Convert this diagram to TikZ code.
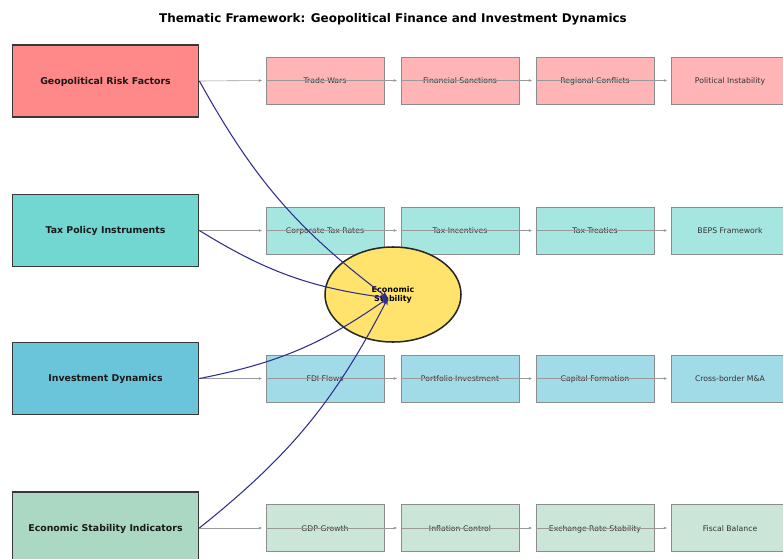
\documentclass[tikz,border=0pt]{standalone}
\usepackage{fontspec}
\setmainfont{DejaVu Sans}
\usetikzlibrary{arrows.meta,shapes.geometric}

\definecolor{riskred}{HTML}{FF6B6B}
\definecolor{taxteal}{HTML}{4ECDC4}
\definecolor{investblue}{HTML}{45B7D1}
\definecolor{stabgreen}{HTML}{96CEB4}
\definecolor{hubyellow}{HTML}{FFE36D}
\definecolor{linknavy}{HTML}{2E2E8F}

\tikzset{
  mainbox/.style={draw=black!78, line width=1.5pt, minimum width=5.58cm, minimum height=2.16cm,
    inner sep=0pt, text height=0.75em, text depth=0.2em, text=black!90,
    font=\bfseries\fontsize{8}{9}\selectfont},
  subbox/.style={draw=black!45, line width=0.6pt, minimum width=3.54cm, minimum height=1.41cm,
    inner sep=0pt, text height=0.75em, text depth=0.2em, text=black!80,
    font=\fontsize{6.6}{7}\selectfont},
  flow/.style={draw=black!40, line width=0.5pt, shorten >=0.1cm, -{Latex[length=3pt,width=2.4pt]}},
  link/.style={draw=linknavy, line width=0.9pt, bend right=12, -{Stealth[length=6pt,width=5pt]}}
}

\begin{document}
\begin{tikzpicture}[x=0.03cm,y=-0.03cm]
  \useasboundingbox (0,0) rectangle (783,558);
  \clip (0,0) rectangle (783,558);

  \node[font=\bfseries\fontsize{10.2}{11}\selectfont] (title) at (393,19)
    {Thematic Framework: Geopolitical Finance and Investment Dynamics};

  % main factors
  \node[mainbox, fill=riskred!80] (geo) at (105.5,81) {Geopolitical Risk Factors};
  \node[mainbox, fill=taxteal!80] (tax) at (105.5,230.5) {Tax Policy Instruments};
  \node[mainbox, fill=investblue!80] (inv) at (105.5,378.5) {Investment Dynamics};
  \node[mainbox, fill=stabgreen!80] (ind) at (105.5,528) {Economic Stability Indicators};

  % sub factors
  \foreach \lbl [count=\i] in {Trade Wars, Financial Sanctions, Regional Conflicts, Political Instability}
    \node[subbox, fill=riskred!50] (g\i) at (190+135*\i,80.5) {\lbl};
  \foreach \lbl [count=\i] in {Corporate Tax Rates, Tax Incentives, Tax Treaties, BEPS Framework}
    \node[subbox, fill=taxteal!50] (t\i) at (190+135*\i,230.5) {\lbl};
  \foreach \lbl [count=\i] in {FDI Flows, Portfolio Investment, Capital Formation, Cross-border M\&A}
    \node[subbox, fill=investblue!50] (v\i) at (190+135*\i,378.5) {\lbl};
  \foreach \lbl [count=\i] in {GDP Growth, Inflation Control, Exchange Rate Stability, Fiscal Balance}
    \node[subbox, fill=stabgreen!50] (s\i) at (190+135*\i,528) {\lbl};

  \draw[flow] (geo.east) -- (g1.west);
  \draw[flow] (tax.east) -- (t1.west);
  \draw[flow] (inv.east) -- (v1.west);
  \draw[flow] (ind.east) -- (s1.west);
  \foreach \r in {g,t,v,s}
    \foreach \i/\j in {1/2,2/3,3/4}
      \draw[flow] (\r\i.west) -- (\r\j.west);

  % hub
  \node[ellipse, draw=black!85, line width=1.3pt, fill=hubyellow, minimum width=4.08cm,
    minimum height=2.85cm, align=center, font=\bfseries\fontsize{6.8}{7.4}\selectfont] (hub) at (393,294.5)
    {Economic\\Stability};
  \coordinate (hubtip) at (388,298);

  \draw[link] (geo.east) to (hubtip);
  \draw[link] (tax.east) to (hubtip);
  \draw[link] (inv.east) to (hubtip);
  \draw[link] (ind.east) to (hubtip);
\end{tikzpicture}
\end{document}
